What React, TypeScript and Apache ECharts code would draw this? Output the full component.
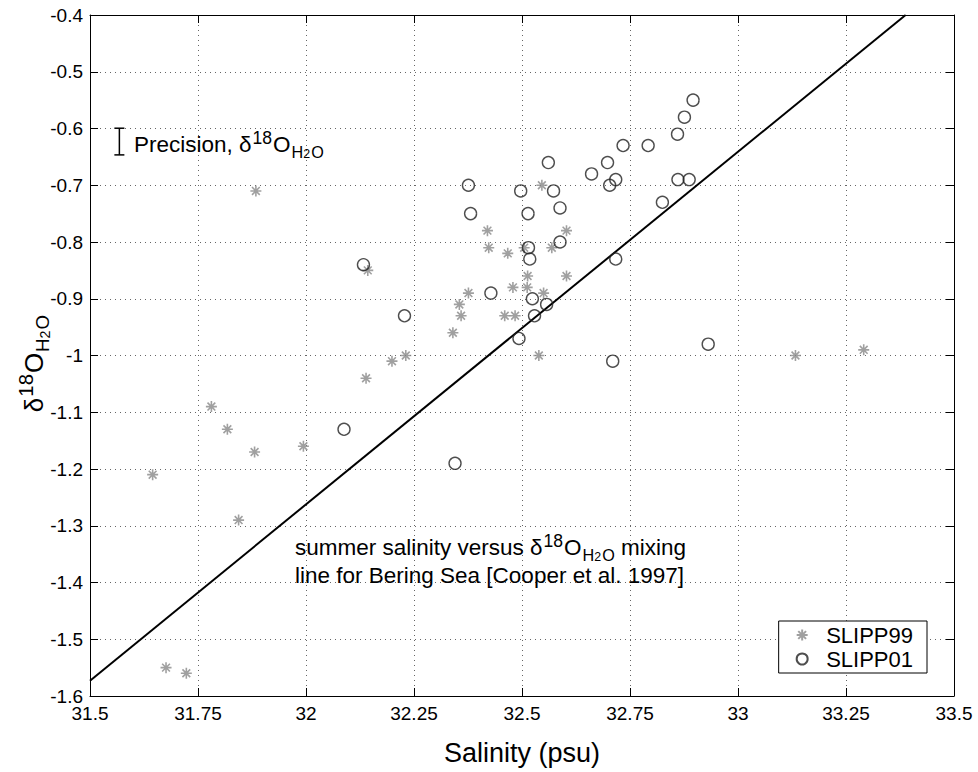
import React, { useEffect, useRef } from "react";
import * as echarts from "echarts";

const FONT = '"Liberation Sans", Arial, Helvetica, sans-serif';

// SLIPP99 (asterisks)
const slipp99Salinity = [31.645, 31.676, 31.723, 31.781, 31.818, 31.844, 31.881, 31.884, 31.994, 32.139, 32.143, 32.199, 32.231, 32.34, 32.355, 32.359, 32.376, 32.42, 32.423, 32.467, 32.46, 32.484, 32.479, 32.505, 32.513, 32.512, 32.539, 32.546, 32.55, 32.569, 32.603, 32.603, 33.133, 33.291];
const slipp99D18O = [-1.21, -1.55, -1.56, -1.09, -1.13, -1.29, -1.17, -0.71, -1.16, -1.04, -0.85, -1.01, -1.0, -0.96, -0.91, -0.93, -0.89, -0.78, -0.81, -0.82, -0.93, -0.93, -0.88, -0.81, -0.86, -0.88, -1.0, -0.7, -0.89, -0.81, -0.86, -0.78, -1.0, -0.99];

// SLIPP01 (circles)
const slipp01Salinity = [32.088, 32.133, 32.228, 32.345, 32.376, 32.381, 32.428, 32.493, 32.497, 32.514, 32.515, 32.518, 32.524, 32.529, 32.557, 32.561, 32.573, 32.588, 32.588, 32.661, 32.698, 32.703, 32.71, 32.717, 32.717, 32.734, 32.792, 32.825, 32.86, 32.861, 32.876, 32.887, 32.896, 32.931];
const slipp01D18O = [-1.13, -0.84, -0.93, -1.19, -0.7, -0.75, -0.89, -0.97, -0.71, -0.75, -0.81, -0.83, -0.9, -0.93, -0.91, -0.66, -0.71, -0.74, -0.8, -0.68, -0.66, -0.7, -1.01, -0.69, -0.83, -0.63, -0.63, -0.73, -0.61, -0.69, -0.58, -0.69, -0.55, -0.98];

// Bering Sea summer mixing line (endpoints)
const mixingSalinity = [31.5, 33.388];
const mixingD18O = [-1.573, -0.4];

// Precision bar: [salinity, centre, half-range]
const precisionBar = [31.568, -0.623, 0.0235];

const xTicks = { min: 31.5, max: 33.5, interval: 0.25 };
const yTicks = { min: -1.6, max: -0.4, interval: 0.1 };

const STAR = "path://M0,-1L0,1M-1,0L1,0M-0.707,-0.707L0.707,0.707M-0.707,0.707L0.707,-0.707";

// rich styles: baseline of the main text sits 1.045*b below the box top
function richSet(b: number) {
  return {
    b: { fontSize: b, lineHeight: b * 1.4, verticalAlign: "middle", fontFamily: FONT, color: "#000" },
    sup: { fontSize: b * 0.78, lineHeight: b * 0.98, verticalAlign: "top", fontFamily: FONT, color: "#000", padding: [0, 1, 0, 1] },
    sub: { fontSize: b * 0.72, lineHeight: b * 0.42, verticalAlign: "bottom", fontFamily: FONT, color: "#000", padding: [0, 0, 0, 1] },
    sub2: { fontSize: b * 0.55, lineHeight: b * 0.08, verticalAlign: "bottom", fontFamily: FONT, color: "#000" },
  };
}

export default function App() {
  const ref = useRef<HTMLDivElement>(null);
  useEffect(() => {
    if (!ref.current) return;
    const chart = echarts.init(ref.current, null, { renderer: "svg" });
    const axisCommon = {
      type: "value",
      axisLine: { show: true, onZero: false, lineStyle: { color: "#000", width: 1 } },
      axisTick: { show: true, inside: true, length: 8, lineStyle: { color: "#000", width: 1 } },
    };
    const gridLine = { show: true, lineStyle: { color: "#666", width: 1, type: [1, 4] } };
    const option: any = {
      animation: false,
      backgroundColor: "#fff",
      grid: { left: 90, right: 24, top: 15, bottom: 76, containLabel: false, outerBoundsMode: "none" },
      xAxis: [
        {
          ...axisCommon,
          ...xTicks,
          position: "bottom",
          axisLabel: { fontSize: 19, color: "#000", fontFamily: FONT, margin: 8 },
          splitLine: gridLine,
          name: "Salinity (psu)",
          nameLocation: "middle",
          nameGap: 43,
          nameMoveOverlap: false,
          nameTextStyle: { fontSize: 27, color: "#000", fontFamily: FONT },
        },
        { ...axisCommon, ...xTicks, position: "top", axisLabel: { show: false }, splitLine: { show: false } },
      ],
      yAxis: [
        {
          ...axisCommon,
          ...yTicks,
          position: "left",
          axisLabel: { fontSize: 19, color: "#000", fontFamily: FONT, margin: 7 },
          splitLine: gridLine,
          name: "{b|δ}{sup|18}{b|O}{sub|H}{sub2|2}{sub|O}",
          nameLocation: "middle",
          nameRotate: 90,
          nameGap: 38,
          nameMoveOverlap: false,
          nameTextStyle: { rich: richSet(26), padding: [0, 16, 0, 0] },
        },
        { ...axisCommon, ...yTicks, position: "right", axisLabel: { show: false }, splitLine: { show: false } },
      ],
      legend: {
        data: [
          { name: "SLIPP99", icon: STAR },
          { name: "SLIPP01", icon: "circle" },
        ],
        orient: "vertical",
        right: 51,
        bottom: 99,
        itemWidth: 38,
        itemHeight: 11,
        itemGap: 2,
        padding: [3, 14, 3, 17],
        borderColor: "#000",
        borderWidth: 1,
        borderRadius: 0,
        backgroundColor: "#fff",
        textStyle: { fontSize: 22, color: "#000", fontFamily: FONT },
      },
      series: [
        {
          name: "mixing",
          type: "line",
          data: mixingSalinity.map((s, i) => [s, mixingD18O[i]]),
          showSymbol: false,
          symbol: "none",
          lineStyle: { color: "#000", width: 2 },
          silent: true,
          z: 3,
        },
        {
          name: "SLIPP99",
          type: "scatter",
          symbol: STAR,
          symbolSize: 11,
          data: slipp99Salinity.map((s, i) => [s, slipp99D18O[i]]),
          itemStyle: { color: "rgba(0,0,0,0)", borderColor: "#888", borderWidth: 1.6 },
          z: 4,
        },
        {
          name: "SLIPP01",
          type: "scatter",
          symbol: "circle",
          symbolSize: 12,
          data: slipp01Salinity.map((s, i) => [s, slipp01D18O[i]]),
          itemStyle: { color: "rgba(0,0,0,0)", borderColor: "#222", borderWidth: 1.4 },
          z: 5,
        },
        {
          name: "precision",
          type: "custom",
          data: [precisionBar],
          silent: true,
          z: 5,
          renderItem: (params: any, api: any) => {
            const x = api.value(0);
            const y = api.value(1);
            const e = api.value(2);
            const top = api.coord([x, y + e]);
            const bot = api.coord([x, y - e]);
            const w = 5;
            const st = { stroke: "#000", lineWidth: 1.5 };
            return {
              type: "group",
              children: [
                { type: "line", shape: { x1: top[0], y1: top[1], x2: bot[0], y2: bot[1] }, style: st },
                { type: "line", shape: { x1: top[0] - w, y1: top[1], x2: top[0] + w, y2: top[1] }, style: st },
                { type: "line", shape: { x1: bot[0] - w, y1: bot[1], x2: bot[0] + w, y2: bot[1] }, style: st },
              ],
            };
          },
        },
      ],
      graphic: [
        {
          type: "text",
          x: 134,
          y: 128.5,
          z: 10,
          style: {
            text: "{b|Precision, δ}{sup|18}{b|O}{sub|H}{sub2|2}{sub|O}",
            rich: richSet(22.5),
            verticalAlign: "top",
            align: "left",
          },
        },
        {
          type: "text",
          x: 295,
          y: 531.5,
          z: 10,
          style: {
            text: "{b|summer salinity versus δ}{sup|18}{b|O}{sub|H}{sub2|2}{sub|O}{b| mixing}",
            rich: richSet(22.5),
            verticalAlign: "top",
            align: "left",
          },
        },
        {
          type: "text",
          x: 295,
          y: 564,
          z: 10,
          style: {
            text: "line for Bering Sea [Cooper et al. 1997]",
            fontSize: 22.5,
            lineHeight: 23,
            fontFamily: FONT,
            fill: "#000",
            verticalAlign: "top",
            align: "left",
          },
        },
      ],
    };
    chart.setOption(option);
    return () => chart.dispose();
  }, []);
  return <div ref={ref} style={{ position: "fixed", left: 0, top: 0, width: 978, height: 772 }} />;
}
